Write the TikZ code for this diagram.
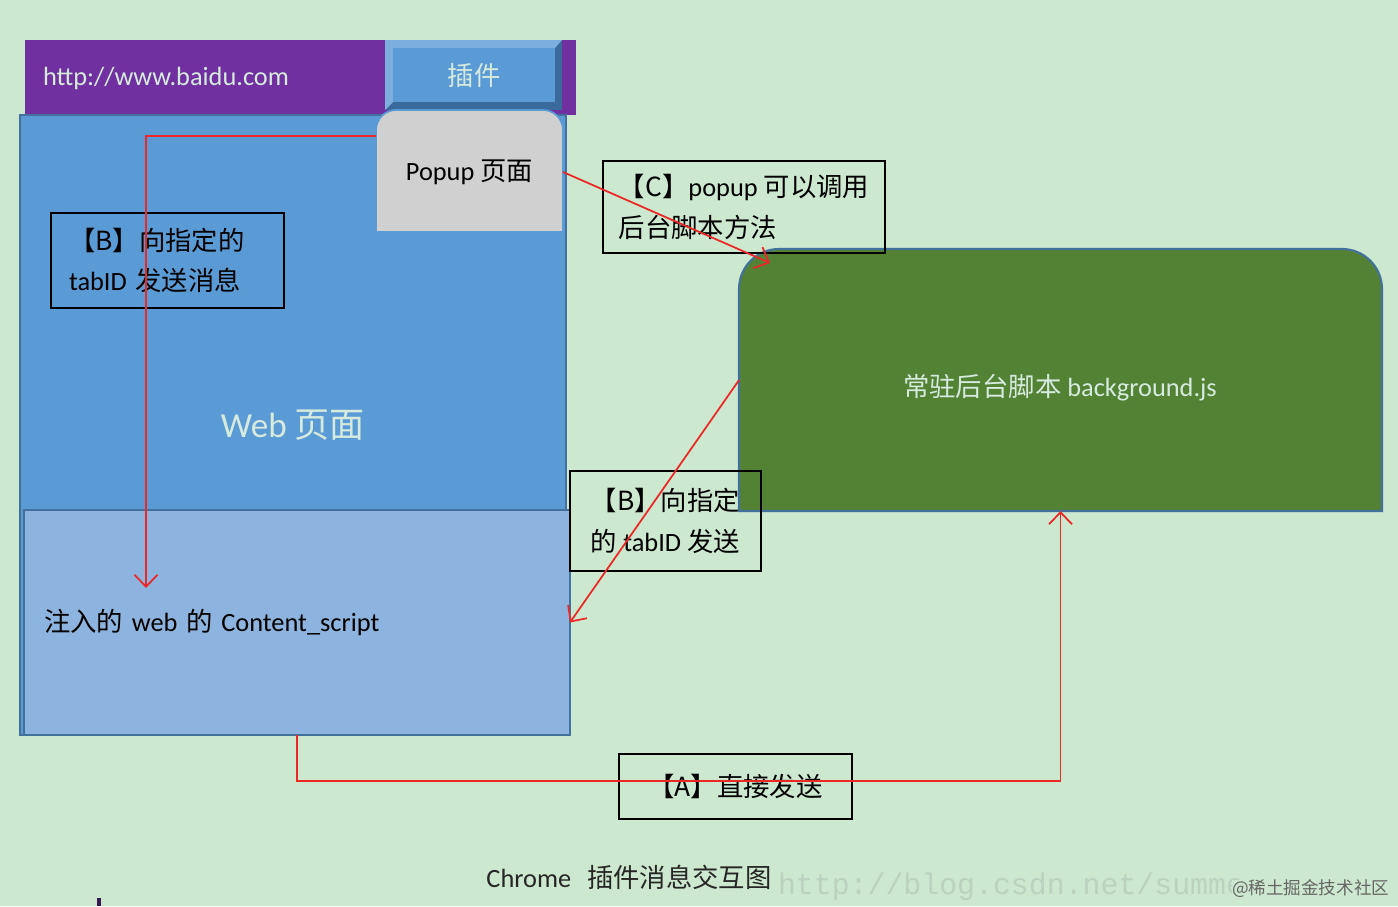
\documentclass[tikz,border=0pt]{standalone}
\usepackage{fontspec}
\setmainfont{Carlito}
\newfontfamily\cjk{Noto Sans CJK SC}
\newfontfamily\wmfont{Liberation Mono}
\usetikzlibrary{arrows.meta,calc}
\definecolor{paper}{RGB}{204,232,207}
\definecolor{barpurple}{RGB}{112,48,160}
\definecolor{webblue}{RGB}{91,155,213}
\definecolor{edgeblue}{RGB}{65,113,156}
\definecolor{csblue}{RGB}{141,180,222}
\definecolor{popgrey}{RGB}{208,208,208}
\definecolor{bggreen}{RGB}{84,130,53}
\definecolor{pale}{RGB}{214,234,222}
\definecolor{msgred}{RGB}{235,40,40}
\definecolor{btndark}{RGB}{58,105,155}
\definecolor{btnlight}{RGB}{125,175,222}
\definecolor{wmgrey}{RGB}{186,210,190}
\newcommand{\zh}[1]{{\cjk #1}}

\begin{document}
\begin{tikzpicture}[x=0.02cm,y=-0.02cm,>={Straight Barb[length=2.4mm,width=4.6mm]},
  font=\fontsize{15}{23}\selectfont,
  every node/.style={inner sep=0pt,outer sep=0pt},
  tag/.style={draw=black,line width=1pt,align=left},
  msg/.style={draw=msgred,line width=1pt,->},
  pane/.style={draw=edgeblue,line width=1pt}]
\useasboundingbox (0,0) rectangle (1398,906);
\fill[paper] (0,0) rectangle (1398,906);
% browser window
\fill[barpurple] (25,40) rectangle (576,115);
\node[anchor=west,text=pale] (url) at (43,78) {http://www.baidu.com};
\fill[btndark] (385,40) rectangle (562,110);
\fill[btnlight] (385,40) -- (562,40) -- (555,48) -- (393,48) -- (393,102) -- (385,110) -- cycle;
\node[fill=webblue,minimum width=3.24cm,minimum height=1.08cm,text=pale] (plugin) at (474,75) {\zh{插件}};
\node[pane,fill=webblue,minimum width=10.92cm,minimum height=12.4cm,text=pale,font=\fontsize{20}{24}\selectfont] (web) at (293,425) {Web \zh{页面}};
\node[pane,fill=csblue,minimum height=4.5cm,text width=10.12cm,inner xsep=0.4cm,align=left] (content) at (297,622.5) {\zh{注入的} web \zh{的} Content\_script};
\filldraw[fill=popgrey,draw=webblue,line width=1pt] (376,232) [rounded corners=0.4cm] -- (376,110) -- (563,110) [sharp corners] -- (563,232) -- cycle;
\node[minimum width=3.74cm,minimum height=2.44cm] (popup) at (469.5,172) {Popup \zh{页面}};
% background page
\filldraw[fill=bggreen,draw=edgeblue,line width=1.2pt] (739,511) [rounded corners=0.8cm] -- (739,249) -- (1382,249) [sharp corners] -- (1382,511) -- cycle;
\node[minimum width=12.86cm,minimum height=5.24cm] (bg) at (1060.5,380) {};
\node[text=pale] (bgtext) at (1060,388) {\zh{常驻后台脚本} background.js};
% message labels
\node[tag,minimum height=1.9cm,text width=3.94cm,inner xsep=0.36cm] (lbB) at (167.5,260.5) {\zh{【B】向指定的}\\tabID \zh{发送消息}};
\node[tag,minimum width=5.64cm,minimum height=1.84cm] (lbC) at (744,207) {\zh{【C】}popup \zh{可以调用}\\\zh{后台脚本方法}};
\node[tag,minimum width=3.82cm,minimum height=2cm] (lbB2) at (665.5,521) {\zh{【B】向指定}\\\zh{的} tabID \zh{发送}};
\node[tag,minimum width=4.66cm,minimum height=1.3cm] (lbA) at (735.5,786.5) {\zh{【A】直接发送}};
% arrows
\coordinate (popin) at (376,136);
\coordinate (csin) at (146,588);
\coordinate (bgin) at (770,263);
\draw[msg] (popin) -| (csin);
\draw[msg] (popup.east) -- (bgin);
\draw[msg] (bg.west) -- (content.east);
\draw[msg] (content.south) -- ++(0,46) -| (bg.south);
\node[text=black!85] (caption) at (629,877) {Chrome\hspace{0.6em}\zh{插件消息交互图}};
\node[anchor=west,text=wmgrey,font=\wmfont\fontsize{17}{17}\selectfont] (wm) at (778,887) {http://blog.csdn.net/summe};
\node[anchor=west,fill=paper,text=black!60,font=\cjk\fontsize{10}{10}\selectfont] (site) at (1232,889) {@稀土掘金技术社区};
\fill[barpurple!50!black] (97,898) rectangle (101,906);
\end{tikzpicture}
\end{document}
